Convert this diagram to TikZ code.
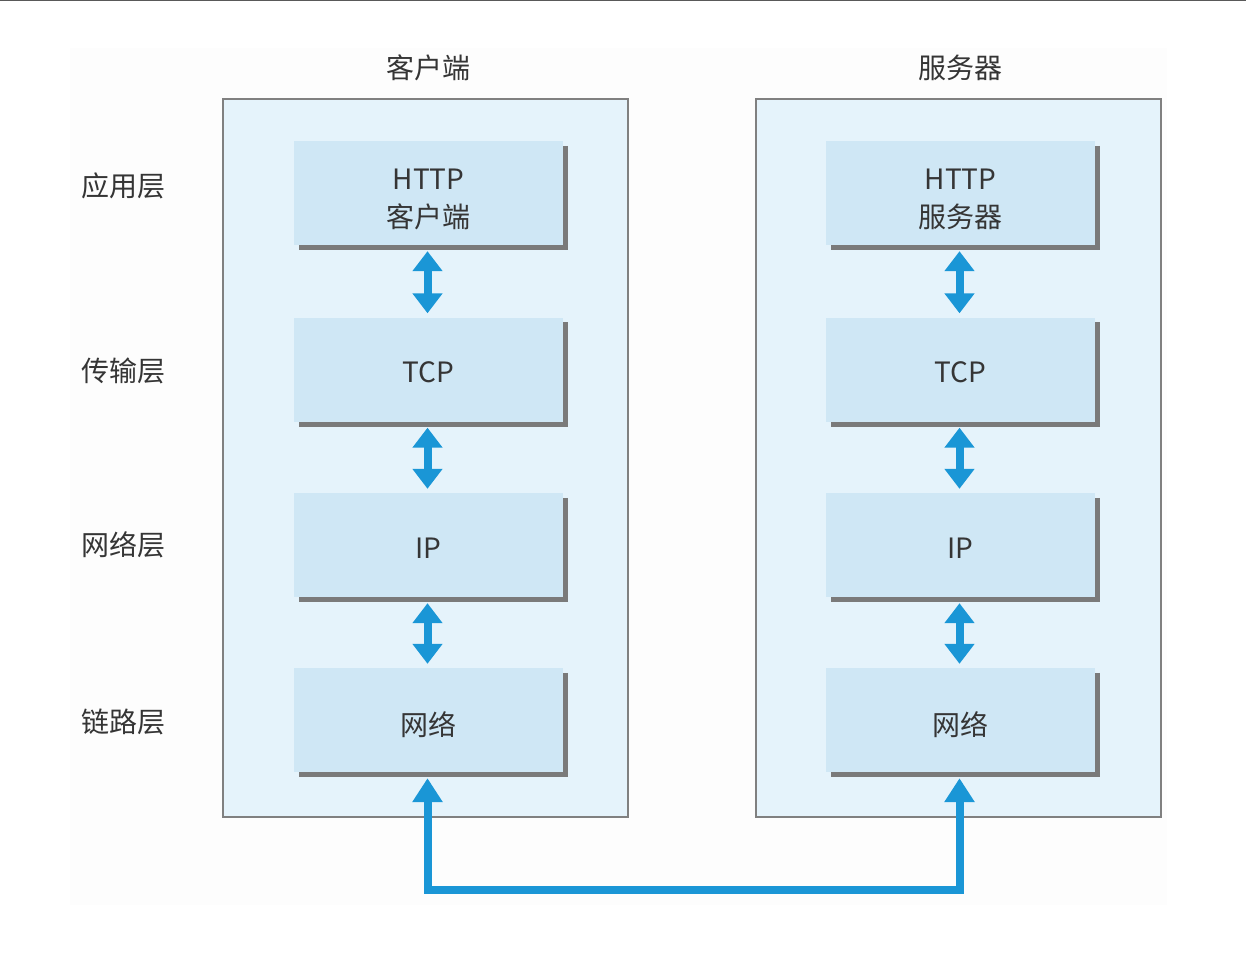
\documentclass[tikz,border=0pt]{standalone}
\usepackage{fontspec}
\setmainfont{Noto Sans CJK SC}
\usetikzlibrary{arrows.meta}
\definecolor{outerfill}{HTML}{E5F3FB}
\definecolor{innerfill}{HTML}{CFE7F5}
\definecolor{bordergray}{HTML}{808080}
\definecolor{shadowgray}{HTML}{7A7A7A}
\definecolor{arrowblue}{HTML}{1A96D6}
\definecolor{txt}{HTML}{353535}
\definecolor{faint}{HTML}{FDFDFD}
\tikzset{
  lbl/.style={text=txt, font=\fontsize{28}{38}\selectfont, inner sep=0pt},
  outerbox/.style={draw=bordergray, line width=1.8pt, fill=outerfill, minimum width=405pt, minimum height=718pt, inner sep=0pt},
  layerbox/.style={fill=innerfill, minimum width=269pt, minimum height=104pt, inner sep=0pt, text=txt, font=\fontsize{28}{38}\selectfont, align=center},
  boxshadow/.style={draw=shadowgray, line width=5pt},
  dbl/.style={draw=arrowblue, line width=8pt, {Triangle[width=29pt,length=20pt]}-{Triangle[width=29pt,length=20pt]}},
  link/.style={draw=arrowblue, line width=8pt, {Triangle[width=29pt,length=24pt]}-{Triangle[width=29pt,length=24pt]}}
}
\newcommand{\shadowof}[1]{%
  \draw[boxshadow] ([xshift=2.5pt,yshift=-5pt]#1.north east) -- ([xshift=2.5pt,yshift=-2.5pt]#1.south east) -- ([xshift=5pt,yshift=-2.5pt]#1.south west);}
\newcommand{\dn}[2][4pt]{\raisebox{-#1}[\height][\depth]{#2}}
\begin{document}
\begin{tikzpicture}[x=1pt,y=-1pt]
\useasboundingbox (0,0) rectangle (1246,953);
\fill[white] (0,0) rectangle (1246,953);
\fill[faint] (70,48) rectangle (1167,905);
\draw[line width=2pt, draw=black!65] (0,0) -- (1246,0);

% outer boxes
\node[outerbox] (clientbox) at (425.5,458) {};
\node[outerbox] (serverbox) at (958.5,458) {};

% column titles
\node[lbl] (clienttitle) at (428,68) {客户端};
\node[lbl] (servertitle) at (960,68) {服务器};

% layer labels
\node[lbl] (lapp) at (123,186) {应用层};
\node[lbl] (ltrans) at (123,371) {传输层};
\node[lbl] (lnet) at (123,545) {网络层};
\node[lbl] (llink) at (123,722) {链路层};

% client stack
\node[layerbox] (chttp) at (428.5,193) {\dn[6pt]{HTTP}\\\dn[6pt]{客户端}};
\node[layerbox] (ctcp) at (428.5,369.5) {\dn[3pt]{TCP}};
\node[layerbox] (cip) at (428.5,545) {\dn[3.5pt]{IP}};
\node[layerbox] (cnet) at (428.5,720) {\dn[4.5pt]{网络}};
% server stack
\node[layerbox] (shttp) at (960.5,193) {\dn[6pt]{HTTP}\\\dn[6pt]{服务器}};
\node[layerbox] (stcp) at (960.5,369.5) {\dn[3pt]{TCP}};
\node[layerbox] (sip) at (960.5,545) {\dn[3.5pt]{IP}};
\node[layerbox] (snet) at (960.5,720) {\dn[4.5pt]{网络}};

\foreach \n in {chttp,ctcp,cip,cnet,shttp,stcp,sip,snet}{\shadowof{\n}}

% vertical double arrows
\draw[dbl, shorten <=6pt, shorten >=4pt] ([xshift=-1pt]chttp.south) -- ([xshift=-1pt]ctcp.north);
\draw[dbl, shorten <=6pt, shorten >=4pt] ([xshift=-1pt]ctcp.south) -- ([xshift=-1pt]cip.north);
\draw[dbl, shorten <=6pt, shorten >=4pt] ([xshift=-1pt]cip.south) -- ([xshift=-1pt]cnet.north);
\draw[dbl, shorten <=6pt, shorten >=4pt] ([xshift=-1pt]shttp.south) -- ([xshift=-1pt]stcp.north);
\draw[dbl, shorten <=6pt, shorten >=4pt] ([xshift=-1pt]stcp.south) -- ([xshift=-1pt]sip.north);
\draw[dbl, shorten <=6pt, shorten >=4pt] ([xshift=-1pt]sip.south) -- ([xshift=-1pt]snet.north);

% network link
\coordinate (cbottom) at (427.5,889.5);
\coordinate (sbottom) at (959.5,889.5);
\draw[link, shorten <=6pt, shorten >=6pt, line join=miter] ([xshift=-1pt]cnet.south) -- (cbottom) -- (sbottom) -- ([xshift=-1pt]snet.south);
\end{tikzpicture}
\end{document}
